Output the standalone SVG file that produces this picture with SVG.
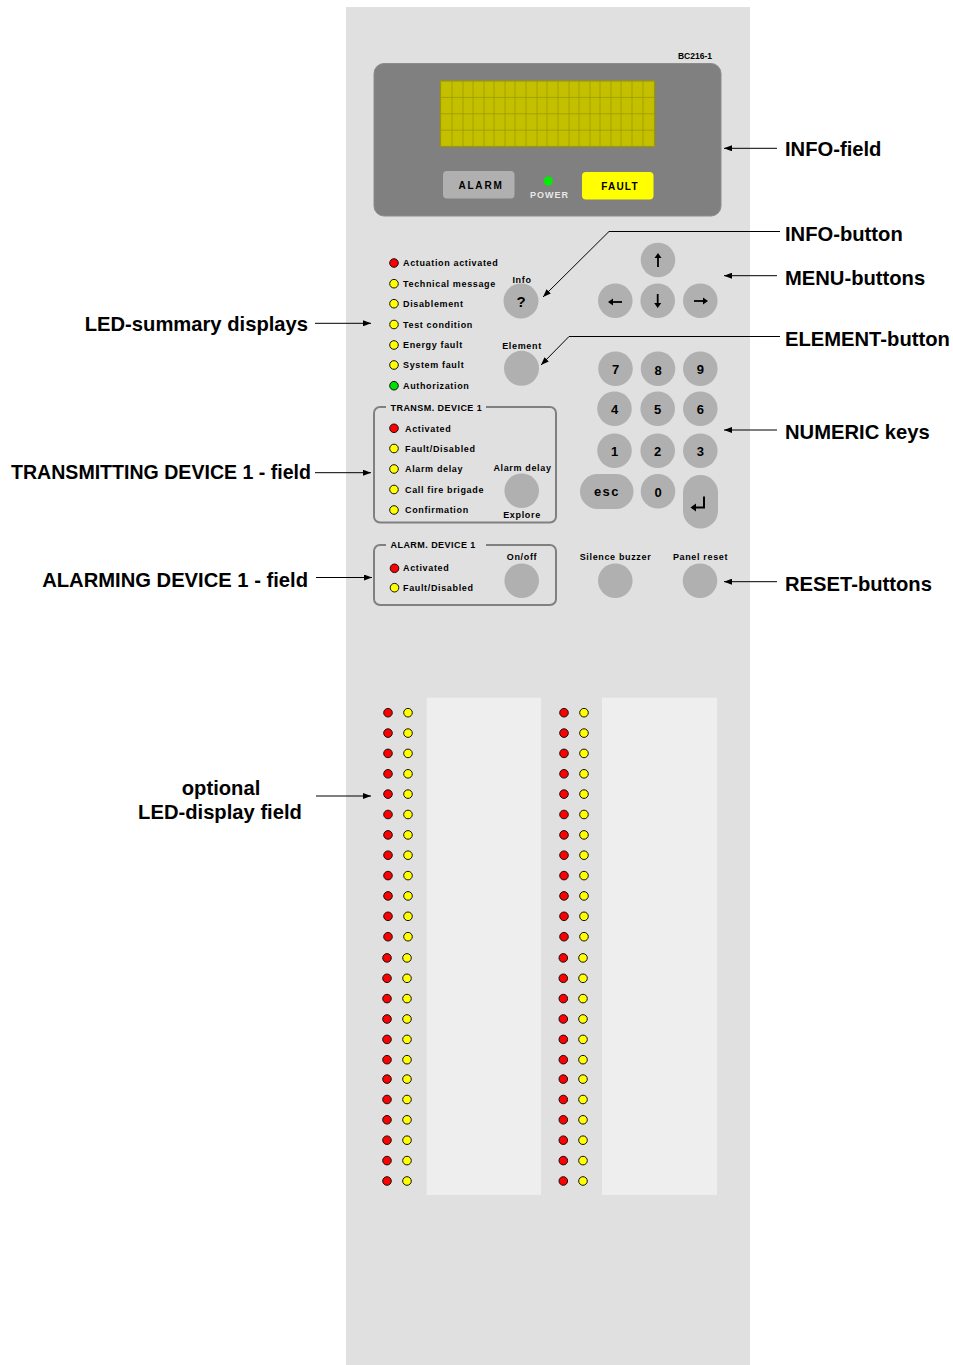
<svg xmlns="http://www.w3.org/2000/svg" width="953" height="1365" viewBox="0 0 953 1365">
<style>
.lbl{font-family:"Liberation Sans",Arial,sans-serif;font-weight:bold;font-size:20.2px;fill:#000}
.sm{font-family:"Liberation Sans",Arial,sans-serif;font-weight:bold;font-size:9px;letter-spacing:0.65px;fill:#000}
.key{font-family:"Liberation Sans","DejaVu Sans",Arial,sans-serif;font-weight:bold;font-size:13px;fill:#000;text-anchor:middle}
.btn{fill:#b0b0b0}
.red{fill:#ff0000;stroke:#111;stroke-width:1}
.yel{fill:#ffff00;stroke:#111;stroke-width:1}
.grn{fill:#00e000;stroke:#111;stroke-width:1}
.box{fill:none;stroke:#808080;stroke-width:2}
.ln{fill:none;stroke:#000;stroke-width:1}
.mid{text-anchor:middle}
.grid{stroke:#9c9900;stroke-width:0.8}
.ar{fill:none;stroke:#000;stroke-width:1.8}
.ah{fill:#000}
</style>
<defs>
<marker id="ah" markerWidth="8" markerHeight="6" refX="8" refY="3" orient="auto" markerUnits="userSpaceOnUse">
<path d="M0,0 L8,3 L0,6 Z" fill="#000"/>
</marker>
</defs>
<rect width="953" height="1365" fill="#fff"/>
<g id="panel">
<rect x="346" y="7" width="404" height="1358" fill="#e0e0e0"/>
<text x="695" y="59" class="sm mid" style="font-size:8.5px;letter-spacing:0">BC216-1</text>
</g>
<g id="info-field">
<rect x="374" y="63.5" width="347" height="152.5" rx="10" fill="#808080" stroke="#8c8c8c" stroke-width="1"/>
<rect x="440.5" y="81" width="214" height="65.5" fill="#c4c000" stroke="#9c9900" stroke-width="1.2"/>
<g class="grid">
<line x1="440.5" y1="97.4" x2="654.5" y2="97.4"/><line x1="440.5" y1="113.8" x2="654.5" y2="113.8"/><line x1="440.5" y1="130.2" x2="654.5" y2="130.2"/>
<line x1="452" y1="81" x2="452" y2="146.5"/><line x1="463" y1="81" x2="463" y2="146.5"/><line x1="473" y1="81" x2="473" y2="146.5"/><line x1="484" y1="81" x2="484" y2="146.5"/><line x1="494" y1="81" x2="494" y2="146.5"/><line x1="505" y1="81" x2="505" y2="146.5"/><line x1="515" y1="81" x2="515" y2="146.5"/><line x1="526" y1="81" x2="526" y2="146.5"/><line x1="537" y1="81" x2="537" y2="146.5"/><line x1="547" y1="81" x2="547" y2="146.5"/><line x1="558" y1="81" x2="558" y2="146.5"/><line x1="569" y1="81" x2="569" y2="146.5"/><line x1="579" y1="81" x2="579" y2="146.5"/><line x1="590" y1="81" x2="590" y2="146.5"/><line x1="600" y1="81" x2="600" y2="146.5"/><line x1="611" y1="81" x2="611" y2="146.5"/><line x1="621" y1="81" x2="621" y2="146.5"/><line x1="632" y1="81" x2="632" y2="146.5"/><line x1="643" y1="81" x2="643" y2="146.5"/>
</g>
<rect x="443" y="171" width="71.5" height="27.5" rx="4" fill="#b0b0b0"/>
<text x="481" y="188.5" class="sm mid" style="font-size:10px;letter-spacing:1.8px">ALARM</text>
<circle cx="548.3" cy="181" r="4.5" fill="#00ee00"/>
<text x="549.5" y="198" class="sm mid" style="fill:#e8e8e8;letter-spacing:1px">POWER</text>
<rect x="582" y="172" width="71.5" height="27.5" rx="4" fill="#ffff00"/>
<text x="620" y="189.5" class="sm mid" style="font-size:10px;letter-spacing:1.2px">FAULT</text>
</g>
<g id="led-summary">
<circle cx="394" cy="263" r="4.3" class="red"/><text x="403" y="266.3" class="sm">Actuation activated</text>
<circle cx="394" cy="283.7" r="4.3" class="yel"/><text x="403" y="287" class="sm">Technical message</text>
<circle cx="394" cy="303.7" r="4.3" class="yel"/><text x="403" y="307" class="sm">Disablement</text>
<circle cx="394" cy="324.5" r="4.3" class="yel"/><text x="403" y="327.8" class="sm">Test condition</text>
<circle cx="394" cy="345" r="4.3" class="yel"/><text x="403" y="348.3" class="sm">Energy fault</text>
<circle cx="394" cy="365" r="4.3" class="yel"/><text x="403" y="368.3" class="sm">System fault</text>
<circle cx="394" cy="385.7" r="4.3" class="grn"/><text x="403" y="389" class="sm">Authorization</text>
</g>
<g id="info-button">
<text x="522" y="282.5" class="sm mid">Info</text>
<circle cx="521" cy="301" r="17.5" class="btn"/>
<text x="521" y="306.5" class="key" style="font-size:15px">?</text>
</g>
<g id="element-button">
<text x="522" y="349" class="sm mid">Element</text>
<circle cx="521.5" cy="368.3" r="17.5" class="btn"/>
</g>
<g id="menu-buttons">
<circle cx="658" cy="260" r="17.3" class="btn"/>
<path d="M658,267 V257" class="ar"/><path d="M654.5,258 L658,253 L661.5,258 Z" class="ah"/>
<circle cx="615.3" cy="300.7" r="17.3" class="btn"/>
<path d="M622,302 H612" class="ar"/><path d="M613,298.5 L608,302 L613,305.5 Z" class="ah"/>
<circle cx="657.7" cy="300.7" r="17.3" class="btn"/>
<path d="M657.7,294 V304" class="ar"/><path d="M654.2,303 L657.7,308 L661.2,303 Z" class="ah"/>
<circle cx="700.3" cy="300.7" r="17.3" class="btn"/>
<path d="M694,301 H704" class="ar"/><path d="M703,297.5 L708,301 L703,304.5 Z" class="ah"/>
</g>
<g id="numeric-keys">
<circle cx="615.5" cy="368.7" r="17.3" class="btn"/><text x="615.5" y="374" class="key">7</text>
<circle cx="658" cy="368.7" r="17.3" class="btn"/><text x="658" y="374.5" class="key">8</text>
<circle cx="700.3" cy="368.7" r="17.3" class="btn"/><text x="700.3" y="373.5" class="key">9</text>
<circle cx="614.5" cy="408.7" r="17.3" class="btn"/><text x="614.5" y="414" class="key">4</text>
<circle cx="657.7" cy="408.7" r="17.3" class="btn"/><text x="657.7" y="414" class="key">5</text>
<circle cx="700.3" cy="408.7" r="17.3" class="btn"/><text x="700.3" y="414" class="key">6</text>
<circle cx="614.5" cy="450.7" r="17.3" class="btn"/><text x="614.5" y="456" class="key">1</text>
<circle cx="657.7" cy="450.7" r="17.3" class="btn"/><text x="657.7" y="456" class="key">2</text>
<circle cx="700.3" cy="450.7" r="17.3" class="btn"/><text x="700.3" y="456" class="key">3</text>
<rect x="580" y="474" width="53.5" height="35" rx="17.5" class="btn"/><text x="607" y="495.5" class="key" style="letter-spacing:1.5px">esc</text>
<circle cx="658" cy="491.3" r="17.3" class="btn"/><text x="658" y="496.5" class="key">0</text>
<rect x="683" y="475" width="35" height="53.5" rx="17.5" class="btn"/>
<path d="M704,496.5 V507.5 H695" fill="none" stroke="#000" stroke-width="2"/>
<path d="M690.5,507.5 L696,503.5 L696,511.5 Z" fill="#000"/>
</g>
<g id="transm-device-1">
<rect x="374" y="407" width="182" height="115.5" rx="6" class="box"/>
<rect x="386" y="402" width="100" height="10" fill="#e0e0e0"/>
<text x="390.5" y="411" class="sm" style="letter-spacing:0.45px">TRANSM. DEVICE 1</text>
<circle cx="394" cy="428.3" r="4.3" class="red"/><text x="405" y="431.6" class="sm">Activated</text>
<circle cx="394" cy="448.5" r="4.3" class="yel"/><text x="405" y="451.8" class="sm">Fault/Disabled</text>
<circle cx="394" cy="469" r="4.3" class="yel"/><text x="405" y="472.3" class="sm">Alarm delay</text>
<circle cx="394" cy="489.5" r="4.3" class="yel"/><text x="405" y="492.8" class="sm">Call fire brigade</text>
<circle cx="394" cy="510" r="4.3" class="yel"/><text x="405" y="513.3" class="sm">Confirmation</text>
<text x="522.5" y="471" class="sm mid">Alarm delay</text>
<circle cx="521.7" cy="490.7" r="17.3" class="btn"/>
<text x="522" y="518" class="sm mid">Explore</text>
</g>
<g id="alarm-device-1">
<rect x="374" y="545" width="182" height="60" rx="6" class="box"/>
<rect x="386" y="540" width="100" height="10" fill="#e0e0e0"/>
<text x="390.5" y="548" class="sm" style="letter-spacing:0.45px">ALARM. DEVICE 1</text>
<circle cx="394.5" cy="568.3" r="4.3" class="red"/><text x="403" y="571.3" class="sm">Activated</text>
<circle cx="394.5" cy="587.7" r="4.3" class="yel"/><text x="403" y="591" class="sm">Fault/Disabled</text>
<text x="522" y="559.5" class="sm mid">On/off</text>
<circle cx="521.7" cy="580.7" r="17.3" class="btn"/>
</g>
<g id="reset-buttons">
<text x="615.5" y="559.5" class="sm mid">Silence buzzer</text>
<circle cx="615.3" cy="580.7" r="17.3" class="btn"/>
<text x="700.5" y="559.5" class="sm mid">Panel reset</text>
<circle cx="700" cy="580.7" r="17.3" class="btn"/>
</g>
<g id="led-display-field">
<rect x="426.7" y="697.7" width="114.3" height="497.3" fill="#eeeeee"/>
<rect x="602" y="697.7" width="115" height="497.3" fill="#eeeeee"/>
<g id="led-col-left-red">
<circle cx="388" cy="712.7" r="4.3" class="red"/><circle cx="388" cy="733.1" r="4.3" class="red"/><circle cx="388" cy="753.4" r="4.3" class="red"/><circle cx="388" cy="773.8" r="4.3" class="red"/><circle cx="388" cy="794.1" r="4.3" class="red"/><circle cx="388" cy="814.5" r="4.3" class="red"/><circle cx="388" cy="834.9" r="4.3" class="red"/><circle cx="388" cy="855.2" r="4.3" class="red"/><circle cx="388" cy="875.6" r="4.3" class="red"/><circle cx="388" cy="895.9" r="4.3" class="red"/><circle cx="388" cy="916.3" r="4.3" class="red"/><circle cx="388" cy="936.7" r="4.3" class="red"/>
<circle cx="387" cy="957.9" r="4.3" class="red"/><circle cx="387" cy="978.3" r="4.3" class="red"/><circle cx="387" cy="998.6" r="4.3" class="red"/><circle cx="387" cy="1019" r="4.3" class="red"/><circle cx="387" cy="1039.4" r="4.3" class="red"/><circle cx="387" cy="1059.7" r="4.3" class="red"/><circle cx="387" cy="1079.1" r="4.3" class="red"/><circle cx="387" cy="1099.5" r="4.3" class="red"/><circle cx="387" cy="1119.8" r="4.3" class="red"/><circle cx="387" cy="1140.2" r="4.3" class="red"/><circle cx="387" cy="1160.6" r="4.3" class="red"/><circle cx="387" cy="1181" r="4.3" class="red"/>
</g>
<g id="led-col-left-yellow">
<circle cx="408" cy="712.7" r="4.3" class="yel"/><circle cx="408" cy="733.1" r="4.3" class="yel"/><circle cx="408" cy="753.4" r="4.3" class="yel"/><circle cx="408" cy="773.8" r="4.3" class="yel"/><circle cx="408" cy="794.1" r="4.3" class="yel"/><circle cx="408" cy="814.5" r="4.3" class="yel"/><circle cx="408" cy="834.9" r="4.3" class="yel"/><circle cx="408" cy="855.2" r="4.3" class="yel"/><circle cx="408" cy="875.6" r="4.3" class="yel"/><circle cx="408" cy="895.9" r="4.3" class="yel"/><circle cx="408" cy="916.3" r="4.3" class="yel"/><circle cx="408" cy="936.7" r="4.3" class="yel"/>
<circle cx="407" cy="957.9" r="4.3" class="yel"/><circle cx="407" cy="978.3" r="4.3" class="yel"/><circle cx="407" cy="998.6" r="4.3" class="yel"/><circle cx="407" cy="1019" r="4.3" class="yel"/><circle cx="407" cy="1039.4" r="4.3" class="yel"/><circle cx="407" cy="1059.7" r="4.3" class="yel"/><circle cx="407" cy="1079.1" r="4.3" class="yel"/><circle cx="407" cy="1099.5" r="4.3" class="yel"/><circle cx="407" cy="1119.8" r="4.3" class="yel"/><circle cx="407" cy="1140.2" r="4.3" class="yel"/><circle cx="407" cy="1160.6" r="4.3" class="yel"/><circle cx="407" cy="1181" r="4.3" class="yel"/>
</g>
<g id="led-col-right-red">
<circle cx="564" cy="712.7" r="4.3" class="red"/><circle cx="564" cy="733.1" r="4.3" class="red"/><circle cx="564" cy="753.4" r="4.3" class="red"/><circle cx="564" cy="773.8" r="4.3" class="red"/><circle cx="564" cy="794.1" r="4.3" class="red"/><circle cx="564" cy="814.5" r="4.3" class="red"/><circle cx="564" cy="834.9" r="4.3" class="red"/><circle cx="564" cy="855.2" r="4.3" class="red"/><circle cx="564" cy="875.6" r="4.3" class="red"/><circle cx="564" cy="895.9" r="4.3" class="red"/><circle cx="564" cy="916.3" r="4.3" class="red"/><circle cx="564" cy="936.7" r="4.3" class="red"/>
<circle cx="563.3" cy="957.9" r="4.3" class="red"/><circle cx="563.3" cy="978.3" r="4.3" class="red"/><circle cx="563.3" cy="998.6" r="4.3" class="red"/><circle cx="563.3" cy="1019" r="4.3" class="red"/><circle cx="563.3" cy="1039.4" r="4.3" class="red"/><circle cx="563.3" cy="1059.7" r="4.3" class="red"/><circle cx="563.3" cy="1079.1" r="4.3" class="red"/><circle cx="563.3" cy="1099.5" r="4.3" class="red"/><circle cx="563.3" cy="1119.8" r="4.3" class="red"/><circle cx="563.3" cy="1140.2" r="4.3" class="red"/><circle cx="563.3" cy="1160.6" r="4.3" class="red"/><circle cx="563.3" cy="1181" r="4.3" class="red"/>
</g>
<g id="led-col-right-yellow">
<circle cx="584" cy="712.7" r="4.3" class="yel"/><circle cx="584" cy="733.1" r="4.3" class="yel"/><circle cx="584" cy="753.4" r="4.3" class="yel"/><circle cx="584" cy="773.8" r="4.3" class="yel"/><circle cx="584" cy="794.1" r="4.3" class="yel"/><circle cx="584" cy="814.5" r="4.3" class="yel"/><circle cx="584" cy="834.9" r="4.3" class="yel"/><circle cx="584" cy="855.2" r="4.3" class="yel"/><circle cx="584" cy="875.6" r="4.3" class="yel"/><circle cx="584" cy="895.9" r="4.3" class="yel"/><circle cx="584" cy="916.3" r="4.3" class="yel"/><circle cx="584" cy="936.7" r="4.3" class="yel"/>
<circle cx="583" cy="957.9" r="4.3" class="yel"/><circle cx="583" cy="978.3" r="4.3" class="yel"/><circle cx="583" cy="998.6" r="4.3" class="yel"/><circle cx="583" cy="1019" r="4.3" class="yel"/><circle cx="583" cy="1039.4" r="4.3" class="yel"/><circle cx="583" cy="1059.7" r="4.3" class="yel"/><circle cx="583" cy="1079.1" r="4.3" class="yel"/><circle cx="583" cy="1099.5" r="4.3" class="yel"/><circle cx="583" cy="1119.8" r="4.3" class="yel"/><circle cx="583" cy="1140.2" r="4.3" class="yel"/><circle cx="583" cy="1160.6" r="4.3" class="yel"/><circle cx="583" cy="1181" r="4.3" class="yel"/>
</g>
</g>
<g id="labels">
<text x="785" y="156" class="lbl">INFO-field</text>
<text x="785" y="241" class="lbl">INFO-button</text>
<text x="785" y="285" class="lbl">MENU-buttons</text>
<text x="785" y="346" class="lbl">ELEMENT-button</text>
<text x="785" y="439" class="lbl">NUMERIC keys</text>
<text x="785" y="591" class="lbl">RESET-buttons</text>
<text x="308" y="331" class="lbl" text-anchor="end">LED-summary displays</text>
<text x="311" y="479" class="lbl" text-anchor="end" textLength="300" lengthAdjust="spacingAndGlyphs">TRANSMITTING DEVICE 1 - field</text>
<text x="308" y="587" class="lbl" text-anchor="end">ALARMING DEVICE 1 - field</text>
<text x="221" y="795" class="lbl mid">optional</text>
<text x="220" y="819" class="lbl mid">LED-display field</text>
</g>
<g id="connectors">
<line x1="777" y1="148.3" x2="724" y2="148.3" class="ln" marker-end="url(#ah)"/>
<polyline points="780,231.5 609,231.5 543,297" class="ln" marker-end="url(#ah)"/>
<line x1="777" y1="275.7" x2="724" y2="275.7" class="ln" marker-end="url(#ah)"/>
<polyline points="780,336.5 569,336.5 541,365" class="ln" marker-end="url(#ah)"/>
<line x1="777" y1="430" x2="724" y2="430" class="ln" marker-end="url(#ah)"/>
<line x1="777" y1="581.7" x2="724" y2="581.7" class="ln" marker-end="url(#ah)"/>
<line x1="315" y1="323.3" x2="371" y2="323.3" class="ln" marker-end="url(#ah)"/>
<line x1="315" y1="472.7" x2="371" y2="472.7" class="ln" marker-end="url(#ah)"/>
<line x1="316" y1="577.5" x2="372" y2="577.5" class="ln" marker-end="url(#ah)"/>
<line x1="316" y1="796" x2="371" y2="796" class="ln" marker-end="url(#ah)"/>
</g>
</svg>
